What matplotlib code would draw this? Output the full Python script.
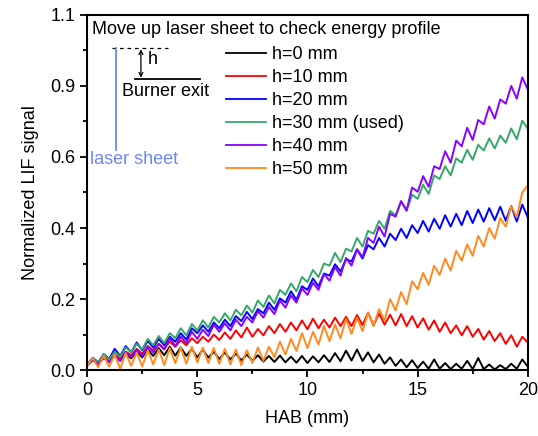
import numpy as np
import matplotlib
matplotlib.use('Agg')
import matplotlib.pyplot as plt
from matplotlib.ticker import MultipleLocator, FixedLocator, FixedFormatter

plt.rcParams['font.family'] = ['Liberation Sans', 'DejaVu Sans']

# HAB positions (mm), one reading every 0.25 mm
hab = np.arange(81) * 0.25

# signals (position units on the y axis)
h0 = [0.015, 0.028, 0.018, 0.034, 0.024, 0.040, 0.027, 0.046,
      0.033, 0.052, 0.036, 0.058, 0.040, 0.062, 0.042, 0.066,
      0.041, 0.064, 0.040, 0.060, 0.036, 0.058, 0.035, 0.052,
      0.031, 0.050, 0.030, 0.047, 0.027, 0.044, 0.026, 0.042,
      0.024, 0.040, 0.023, 0.041, 0.022, 0.038, 0.021, 0.040,
      0.020, 0.039, 0.022, 0.042, 0.023, 0.048, 0.025, 0.055,
      0.027, 0.058, 0.026, 0.050, 0.022, 0.044, 0.018, 0.036,
      0.012, 0.030, 0.008, 0.028, 0.006, 0.024, 0.004, 0.030,
      0.004, 0.020, 0.003, 0.018, 0.004, 0.026, 0.003, 0.034,
      0.003, 0.016, 0.002, 0.014, 0.003, 0.018, 0.004, 0.030,
      0.010]
h10 = [0.014, 0.030, 0.020, 0.036, 0.028, 0.046, 0.032, 0.052,
       0.042, 0.060, 0.046, 0.068, 0.056, 0.074, 0.060, 0.080,
       0.066, 0.084, 0.070, 0.090, 0.076, 0.094, 0.080, 0.100,
       0.085, 0.106, 0.088, 0.112, 0.092, 0.120, 0.094, 0.116,
       0.098, 0.124, 0.104, 0.130, 0.108, 0.134, 0.112, 0.140,
       0.115, 0.145, 0.118, 0.142, 0.120, 0.148, 0.124, 0.150,
       0.124, 0.155, 0.127, 0.162, 0.126, 0.160, 0.128, 0.156,
       0.126, 0.158, 0.124, 0.152, 0.120, 0.146, 0.114, 0.140,
       0.108, 0.134, 0.104, 0.126, 0.098, 0.124, 0.094, 0.116,
       0.086, 0.110, 0.082, 0.104, 0.074, 0.098, 0.066, 0.094,
       0.078]
h20 = [0.015, 0.035, 0.022, 0.045, 0.032, 0.060, 0.040, 0.068,
       0.050, 0.078, 0.056, 0.082, 0.064, 0.088, 0.070, 0.094,
       0.080, 0.104, 0.086, 0.118, 0.104, 0.126, 0.108, 0.134,
       0.118, 0.142, 0.124, 0.152, 0.138, 0.164, 0.144, 0.172,
       0.160, 0.190, 0.170, 0.202, 0.190, 0.222, 0.198, 0.236,
       0.226, 0.258, 0.236, 0.272, 0.266, 0.298, 0.278, 0.312,
       0.306, 0.340, 0.314, 0.352, 0.340, 0.372, 0.348, 0.384,
       0.366, 0.398, 0.372, 0.408, 0.386, 0.420, 0.390, 0.426,
       0.398, 0.436, 0.404, 0.440, 0.408, 0.448, 0.414, 0.452,
       0.418, 0.456, 0.422, 0.460, 0.420, 0.462, 0.418, 0.466,
       0.430]
h30 = [0.014, 0.034, 0.022, 0.044, 0.030, 0.052, 0.038, 0.064,
       0.050, 0.074, 0.058, 0.088, 0.070, 0.096, 0.076, 0.104,
       0.090, 0.118, 0.098, 0.130, 0.112, 0.140, 0.120, 0.150,
       0.134, 0.160, 0.140, 0.170, 0.154, 0.182, 0.162, 0.196,
       0.178, 0.210, 0.188, 0.226, 0.212, 0.244, 0.222, 0.262,
       0.248, 0.282, 0.262, 0.300, 0.294, 0.330, 0.304, 0.342,
       0.334, 0.372, 0.348, 0.392, 0.384, 0.420, 0.398, 0.448,
       0.436, 0.474, 0.448, 0.494, 0.482, 0.522, 0.496, 0.548,
       0.538, 0.574, 0.548, 0.596, 0.584, 0.620, 0.592, 0.634,
       0.618, 0.652, 0.624, 0.660, 0.640, 0.680, 0.650, 0.702,
       0.680]
h40 = [0.012, 0.030, 0.016, 0.036, 0.022, 0.042, 0.026, 0.052,
       0.036, 0.058, 0.040, 0.066, 0.050, 0.074, 0.058, 0.090,
       0.068, 0.094, 0.076, 0.108, 0.088, 0.114, 0.096, 0.128,
       0.108, 0.132, 0.112, 0.142, 0.124, 0.150, 0.134, 0.166,
       0.148, 0.178, 0.158, 0.196, 0.176, 0.210, 0.190, 0.230,
       0.212, 0.246, 0.226, 0.270, 0.252, 0.290, 0.266, 0.316,
       0.294, 0.340, 0.318, 0.372, 0.358, 0.404, 0.376, 0.440,
       0.432, 0.476, 0.450, 0.514, 0.502, 0.546, 0.516, 0.574,
       0.566, 0.616, 0.584, 0.646, 0.630, 0.682, 0.648, 0.704,
       0.692, 0.742, 0.708, 0.762, 0.750, 0.800, 0.764, 0.824,
       0.790]
h50 = [0.012, 0.034, 0.008, 0.040, 0.010, 0.044, 0.004, 0.048,
       0.012, 0.050, 0.010, 0.056, 0.016, 0.058, 0.014, 0.062,
       0.020, 0.064, 0.018, 0.066, 0.022, 0.064, 0.020, 0.062,
       0.018, 0.060, 0.016, 0.058, 0.014, 0.056, 0.020, 0.064,
       0.026, 0.066, 0.036, 0.080, 0.044, 0.088, 0.054, 0.104,
       0.062, 0.108, 0.072, 0.124, 0.082, 0.128, 0.090, 0.144,
       0.102, 0.148, 0.110, 0.162, 0.124, 0.172, 0.140, 0.200,
       0.168, 0.220, 0.186, 0.250, 0.228, 0.274, 0.240, 0.294,
       0.268, 0.314, 0.280, 0.336, 0.308, 0.354, 0.322, 0.378,
       0.348, 0.400, 0.370, 0.428, 0.404, 0.462, 0.430, 0.500,
       0.520]

series = [h0, h10, h20, h30, h40, h50]
labels = ['h=0 mm', 'h=10 mm', 'h=20 mm', 'h=30 mm (used)', 'h=40 mm', 'h=50 mm']
colors = ['#000000', '#FF0000', '#0000FF', '#33A867', '#8B00FF', '#FF8A1F']

# y tick labels as printed on the original axis
ytick_pos = [0.0, 0.2, 0.4, 0.6, 0.8, 1.0]
ytick_lab = ['0.0', '0.2', '0.4', '0.6', '0.9', '1.1']

fig = plt.figure(figsize=(5.38, 4.36), dpi=100)
ax = fig.add_axes([0.162, 0.151, 0.819, 0.815])

for y, lab, c in zip(series, labels, colors):
    ax.plot(hab, y, color=c, lw=1.4, label=lab)

ax.set_xlim(0, 20)
ax.set_ylim(0, 1.0)
ax.xaxis.set_major_locator(MultipleLocator(5))
ax.xaxis.set_minor_locator(MultipleLocator(2.5))
ax.yaxis.set_major_locator(FixedLocator(ytick_pos))
ax.yaxis.set_major_formatter(FixedFormatter(ytick_lab))
ax.yaxis.set_minor_locator(MultipleLocator(0.1))
ax.tick_params(which='both', direction='out', width=1.3, labelsize=13)
ax.tick_params(which='major', length=5)
ax.tick_params(which='minor', length=3)
for s in ax.spines.values():
    s.set_linewidth(1.5)

ax.set_xlabel('HAB (mm)', fontsize=13, labelpad=8)
ax.set_ylabel('Normalized LIF signal', fontsize=13, labelpad=8)

# legend block with title line
ax.text(0.011, 0.958, 'Move up laser sheet to check energy profile',
        transform=ax.transAxes, fontsize=13, va='center', ha='left')
leg = ax.legend(loc='upper left', bbox_to_anchor=(0.316, 0.911), frameon=False,
                fontsize=13, handlelength=2.2, handletextpad=0.35,
                labelspacing=0.33, borderaxespad=0, borderpad=0)
for line in leg.get_lines():
    line.set_linewidth(1.3)

# schematic of the laser sheet / burner exit
sheet_blue = '#6C86FF'
ax.plot([0.057, 0.184], [0.907, 0.907], transform=ax.transAxes,
        color='black', lw=0.9, ls=(0, (3, 3)))
ax.plot([0.066, 0.066], [0.907, 0.62], transform=ax.transAxes,
        color=sheet_blue, lw=1.3)
ax.plot([0.109, 0.256], [0.82, 0.82], transform=ax.transAxes,
        color='black', lw=1.3)
ax.annotate('', xy=(0.122, 0.903), xytext=(0.122, 0.823),
            xycoords='axes fraction', textcoords='axes fraction',
            arrowprops=dict(arrowstyle='<->', lw=0.9, color='black',
                            mutation_scale=7, shrinkA=0, shrinkB=0))
ax.text(0.138, 0.875, 'h', transform=ax.transAxes, fontsize=13, va='center')
ax.text(0.080, 0.783, 'Burner exit', transform=ax.transAxes, fontsize=13,
        va='center')
ax.text(0.007, 0.592, 'laser sheet', transform=ax.transAxes, fontsize=13,
        va='center', color=sheet_blue)

fig.savefig('out.png', dpi=100)
